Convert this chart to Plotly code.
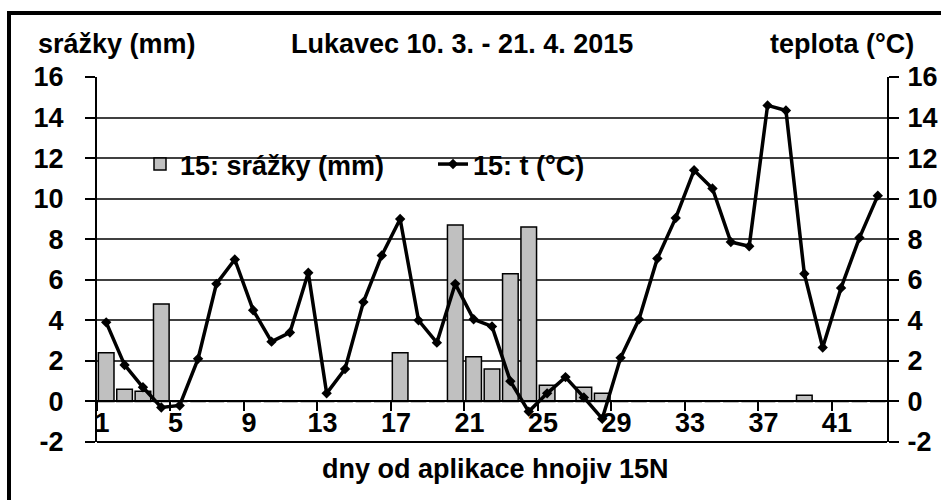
import plotly.graph_objects as go

days = list(range(1, 44))
srazky = [2.4, 0.6, 0.5, 4.8, 0, 0, 0, 0, 0, 0,
          0, 0, 0, 0, 0, 0, 2.4, 0, 0, 8.7,
          2.2, 1.6, 6.3, 8.6, 0.8, 0, 0.7, 0.4, 0, 0,
          0, 0, 0, 0, 0, 0, 0, 0, 0.3, 0,
          0, 0, 0]
teplota = [3.9, 1.8, 0.7, -0.3, -0.2, 2.1, 5.8, 7.0, 4.5, 2.95,
           3.4, 6.35, 0.4, 1.6, 4.9, 7.2, 9.0, 4.0, 2.9, 5.8,
           4.05, 3.7, 1.0, -0.5, 0.4, 1.2, 0.2, -0.85, 2.15, 4.05,
           7.05, 9.05, 11.4, 10.5, 7.86, 7.65, 14.6, 14.35, 6.3, 2.66,
           5.6, 8.07, 10.15]
tick_labels = [str(d) for d in range(1, 42, 4)]
tick_pos = [d - 0.5 for d in range(1, 42, 4)]
y_ticks = list(range(-2, 17, 2))
y_tick_text = [str(v) for v in y_ticks]

FONT = "Liberation Sans, Arial, sans-serif"
FS = 27

fig = go.Figure()
fig.add_trace(go.Bar(
    x=days, y=srazky, name="15: srážky (mm)",
    marker=dict(color="#c0c0c0", line=dict(color="black", width=1.5)),
    xaxis="x", yaxis="y",
))
fig.add_trace(go.Scatter(
    x=days, y=teplota, name="15: t (°C)", mode="lines+markers",
    line=dict(color="black", width=3.5),
    marker=dict(symbol="diamond", size=8, color="black"),
    xaxis="x", yaxis="y2",
))

W, H = 941, 500
ml, mr, mt, mb = 97, 54, 77, 58
pw = W - ml - mr
ph = H - mt - mb

def px(xpix):
    return (xpix - ml) / pw

def py(ypix):
    return (H - mb - ypix) / ph

tickfont = dict(family=FONT, size=FS, color="black", weight="bold")

fig.update_layout(
    width=W, height=H,
    margin=dict(l=ml, r=mr, t=mt, b=mb, autoexpand=False),
    paper_bgcolor="white", plot_bgcolor="white",
    font=dict(family=FONT, size=FS, color="black", weight="bold"),
    bargap=0.15,
    showlegend=True,
    legend=dict(
        x=px(140), y=py(140), xanchor="left", yanchor="top",
        orientation="h", bgcolor="rgba(0,0,0,0)",
        font=dict(family=FONT, size=FS, color="black", weight="bold"),
        itemwidth=30, entrywidth=248,
    ),
    xaxis=dict(
        range=[0.5, 43.5], anchor="free", position=2 / 18,
        showline=True, linecolor="black", linewidth=2,
        tickmode="array", tickvals=tick_pos, ticktext=tick_labels,
        ticks="outside", ticklen=9, tickwidth=2, tickcolor="black",
        ticklabelshift=5, ticklabelstandoff=-12,
        showgrid=False, zeroline=False, automargin=False,
        tickfont=tickfont,
    ),
    yaxis=dict(
        range=[-2, 16], tickmode="array", tickvals=y_ticks, ticktext=y_tick_text,
        ticks="outside", ticklen=10, tickwidth=2, tickcolor="black",
        ticklabelstandoff=16,
        showline=True, linecolor="black", linewidth=2,
        showgrid=True, gridcolor="#404040", gridwidth=2,
        zeroline=False, automargin=False,
        tickfont=tickfont,
    ),
    yaxis2=dict(
        range=[-2, 16], tickmode="array", tickvals=y_ticks, ticktext=y_tick_text,
        overlaying="y", side="right",
        ticks="outside", ticklen=10, tickwidth=2, tickcolor="black",
        ticklabelstandoff=3,
        showline=True, linecolor="black", linewidth=2,
        showgrid=False, zeroline=False, automargin=False,
        tickfont=tickfont,
    ),
    annotations=[
        dict(text="srážky (mm)", x=px(36), y=py(44), xref="paper", yref="paper",
             xanchor="left", yanchor="middle", showarrow=False),
        dict(text="Lukavec 10. 3. - 21. 4. 2015", x=px(462), y=py(44),
             xref="paper", yref="paper", xanchor="center", yanchor="middle",
             showarrow=False),
        dict(text="teplota (°C)", x=px(916), y=py(44), xref="paper", yref="paper",
             xanchor="right", yanchor="middle", showarrow=False),
        dict(text="dny od aplikace hnojiv 15N", x=px(495), y=py(469),
             xref="paper", yref="paper", xanchor="center", yanchor="middle",
             showarrow=False),
    ],
    shapes=[
        dict(type="line", xref="paper", yref="paper", x0=0, x1=1, y0=0, y1=0,
             line=dict(color="black", width=2)),
        dict(type="rect", xref="paper", yref="paper",
             x0=px(9), x1=px(1100), y0=py(600), y1=py(13),
             line=dict(color="black", width=4)),
    ],
)

fig.write_html(
    "out.html",
    config={"displayModeBar": False},
    post_script="document.body.style.margin='0';document.body.style.overflow='hidden';",
)
